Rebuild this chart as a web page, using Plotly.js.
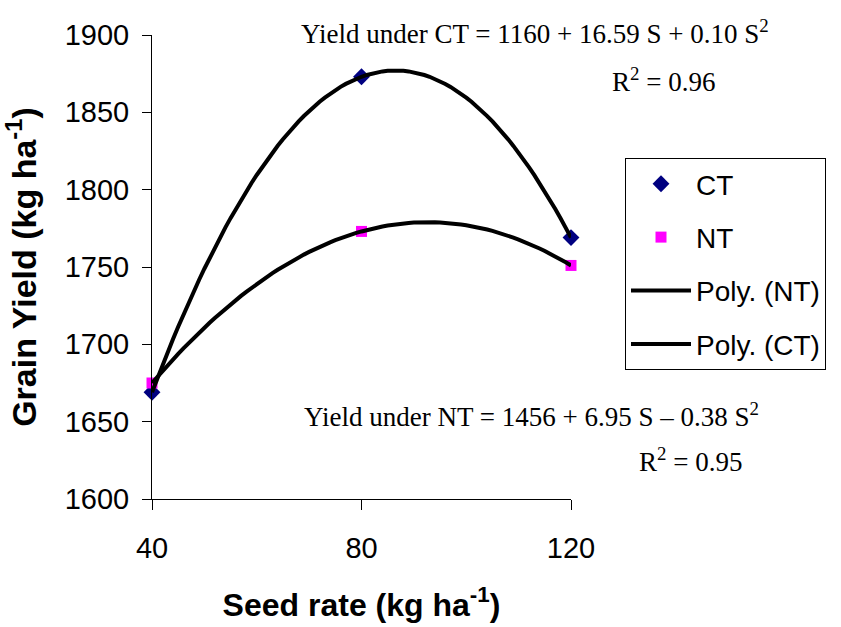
<!DOCTYPE html>
<html>
<head>
<meta charset="utf-8">
<script src="https://cdn.plot.ly/plotly-3.0.1.min.js"></script>
<style>html,body{margin:0;padding:0;background:#fff;}#chart{width:841px;height:627px;}</style>
</head>
<body>
<div id="chart"></div>
<script>
// Data
const seedRate = [40, 80, 120];
const yieldCT = [1669, 1873, 1769];
const yieldNT = [1675, 1773, 1751];
const xTickVals = [40, 80, 120];
const yTickVals = [1600, 1650, 1700, 1750, 1800, 1850, 1900];

// Quadratic (order 2) least-squares trendline, as the spreadsheet's "Poly." trendline
function polyfit2(xs, ys) {
  let s0=0,s1=0,s2=0,s3=0,s4=0,t0=0,t1=0,t2=0;
  for (let i=0;i<xs.length;i++){const x=xs[i],y=ys[i];s0+=1;s1+=x;s2+=x*x;s3+=x*x*x;s4+=x*x*x*x;t0+=y;t1+=x*y;t2+=x*x*y;}
  const M=[[s0,s1,s2,t0],[s1,s2,s3,t1],[s2,s3,s4,t2]];
  for(let c=0;c<3;c++){let p=c;for(let r=c+1;r<3;r++)if(Math.abs(M[r][c])>Math.abs(M[p][c]))p=r;[M[c],M[p]]=[M[p],M[c]];
    for(let r=0;r<3;r++){if(r===c)continue;const f=M[r][c]/M[c][c];for(let k=c;k<4;k++)M[r][k]-=f*M[c][k];}}
  return [M[0][3]/M[0][0],M[1][3]/M[1][1],M[2][3]/M[2][2]];
}
function trend(xs, ys, n) {
  const c = polyfit2(xs, ys); const x0 = Math.min(...xs), x1 = Math.max(...xs);
  const X=[],Y=[];
  for(let i=0;i<=n;i++){const x=x0+(x1-x0)*i/n;X.push(x);Y.push(c[0]+c[1]*x+c[2]*x*x);}
  return {X,Y};
}
const tNT = trend(seedRate, yieldNT, 80);
const tCT = trend(seedRate, yieldCT, 80);

const traces = [
  {x: seedRate, y: yieldCT, name: 'CT', mode: 'markers', type: 'scatter', legendgroup: 'a',
   marker: {symbol: 'diamond', color: '#000080', size: 13}, cliponaxis: false},
  {x: seedRate, y: yieldNT, name: 'NT', mode: 'markers', type: 'scatter', legendgroup: 'b',
   marker: {symbol: 'square', color: '#FF00FF', size: 11}, cliponaxis: false},
  {x: tNT.X, y: tNT.Y, name: 'Poly. (NT)', mode: 'lines', type: 'scatter', legendgroup: 'c',
   line: {color: '#000000', width: 4}, cliponaxis: false},
  {x: tCT.X, y: tCT.Y, name: 'Poly. (CT)', mode: 'lines', type: 'scatter', legendgroup: 'd',
   line: {color: '#000000', width: 4}, cliponaxis: false}
];

const AR = 'Arial, "Liberation Sans", sans-serif';
const TM = '"Times New Roman", "Liberation Serif", serif';

const layout = {
  width: 841, height: 627,
  margin: {l: 152, r: 270, t: 35, b: 128, pad: 0},
  paper_bgcolor: '#ffffff', plot_bgcolor: '#ffffff',
  showlegend: true,
  legend: {
    x: (625-152)/419, y: (499-158)/464, xanchor: 'left', yanchor: 'top', xref: 'paper', yref: 'paper',
    bordercolor: '#000000', borderwidth: 1, bgcolor: '#ffffff',
    font: {family: AR, size: 28, color: '#000000'},
    traceorder: 'grouped', tracegroupgap: 14, itemwidth: 60
  },
  xaxis: {
    range: [40, 120], tickvals: xTickVals, ticktext: xTickVals.map(String),
    showgrid: false, zeroline: false, showline: true, linecolor: '#000000', linewidth: 1,
    ticks: 'outside', ticklen: 10, tickcolor: '#000000', ticklabelstandoff: 13,
    tickfont: {family: AR, size: 29, color: '#000000'},
    title: {text: '<b>Seed rate (kg ha<sup>-1</sup>)</b>', font: {family: AR, size: 32, color: '#000000'}, standoff: 30}
  },
  yaxis: {
    range: [1600, 1900], tickvals: yTickVals,
    showgrid: false, zeroline: false, showline: true, linecolor: '#000000', linewidth: 1,
    ticks: 'outside', ticklen: 9, tickcolor: '#000000', ticklabelstandoff: 7,
    tickfont: {family: AR, size: 29, color: '#000000'},
    title: {text: '<b>Grain Yield (kg ha<sup>-1</sup>)</b>', font: {family: AR, size: 34, color: '#000000'}, standoff: 17}
  },
  annotations: [
    {xref: 'paper', yref: 'paper', x: (535-152)/419, y: (499-32)/464, xanchor: 'center', yanchor: 'middle', showarrow: false,
     text: 'Yield under CT = 1160 + 16.59 S + 0.10 S<sup>2</sup>', font: {family: TM, size: 27, color: '#000000'}},
    {xref: 'paper', yref: 'paper', x: (663-152)/419, y: (499-80)/464, xanchor: 'center', yanchor: 'middle', showarrow: false,
     text: 'R<sup>2</sup> = 0.96', font: {family: TM, size: 27, color: '#000000'}},
    {xref: 'paper', yref: 'paper', x: (531-152)/419, y: (499-415)/464, xanchor: 'center', yanchor: 'middle', showarrow: false,
     text: 'Yield under NT = 1456 + 6.95 S \u2013 0.38 S<sup>2</sup>', font: {family: TM, size: 27, color: '#000000'}},
    {xref: 'paper', yref: 'paper', x: (690-152)/419, y: (499-460)/464, xanchor: 'center', yanchor: 'middle', showarrow: false,
     text: 'R<sup>2</sup> = 0.95', font: {family: TM, size: 27, color: '#000000'}}
  ]
};

Plotly.newPlot('chart', traces, layout, {displayModeBar: false, staticPlot: true});
</script>
</body>
</html>
